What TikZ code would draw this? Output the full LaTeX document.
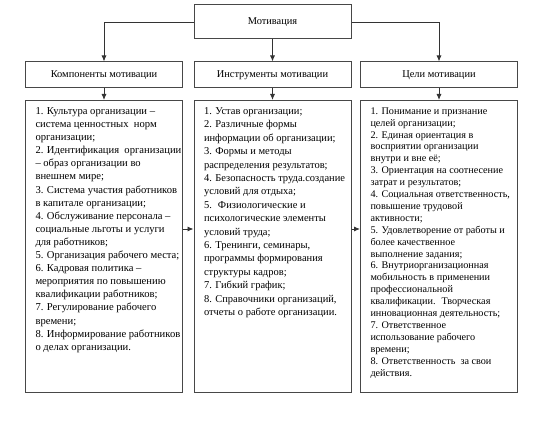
\documentclass[tikz,border=0pt]{standalone}
\usepackage{fontspec}
\setmainfont{Liberation Serif}
\usetikzlibrary{arrows.meta}
\tikzset{
  box/.style={draw=black!72, line width=1pt, fill=white, rectangle, inner sep=0pt,
    minimum width=157pt, align=center},
  listbox/.style={draw=black!72, line width=1pt, rectangle, inner sep=0pt, anchor=north},
  arr/.style={draw=black!80, line width=0.9pt, -{Latex[length=6pt,width=5pt]}},
}
\newcommand{\listtext}[3]{\hspace*{10pt}\parbox[c][292pt][t]{147pt}{\raggedright\fontsize{#1}{#2}\selectfont\vspace*{7pt}#3}}
\begin{document}
\begin{tikzpicture}[x=1pt,y=-1pt]
\useasboundingbox (0,0) rectangle (538,425);
\fill[white] (0,0) rectangle (538,425);
\node[box, minimum height=34pt, font=\fontsize{10.4}{12}\selectfont] (top) at (272.5,22) {Мотивация};
\node[box, minimum height=26pt, font=\fontsize{10.4}{12}\selectfont] (k1) at (104,75) {Компоненты мотивации};
\node[box, minimum height=26pt, font=\fontsize{10.4}{12}\selectfont] (k2) at (272.5,75) {Инструменты мотивации};
\node[box, minimum height=26pt, font=\fontsize{10.4}{12}\selectfont] (k3) at (439,75) {Цели мотивации};

\node[listbox] (b1) at (104,100) {\listtext{10.6}{13.1pt}{1. Культура организации –\\
система ценностных~ норм\\
организации;\\
2. Идентификация~ организации\\
– образ организации во\\
внешнем мире;\\
3. Система участия работников\\
в капитале организации;\\
4. Обслуживание персонала –\\
социальные льготы и услуги\\
для работников;\\
5. Организация рабочего места;\\
6. Кадровая политика –\\
мероприятия по повышению\\
квалификации работников;\\
7. Регулирование рабочего\\
времени;\\
8. Информирование работников\\
о делах организации.}};

\node[listbox] (b2) at (272.5,100) {\listtext{10.5}{13.4pt}{1. Устав организации;\\
2. Различные формы\\
информации об организации;\\
3. Формы и методы\\
распределения результатов;\\
4. Безопасность труда.создание\\
условий для отдыха;\\
5.~ Физиологические и\\
психологические элементы\\
условий труда;\\
6. Тренинги, семинары,\\
программы формирования\\
структуры кадров;\\
7. Гибкий график;\\
8. Справочники организаций,\\
отчеты о работе организации.}};

\node[listbox] (b3) at (439,100) {\listtext{10.2}{11.9pt}{1. Понимание и признание\\
целей организации;\\
2. Единая ориентация в\\
восприятии организации\\
внутри и вне её;\\
3. Ориентация на соотнесение\\
затрат и результатов;\\
4. Социальная ответственность,\\
повышение трудовой\\
активности;\\
5. Удовлетворение от работы и\\
более качественное\\
выполнение задания;\\
6. Внутриорганизационная\\
мобильность в применении\\
профессиональной\\
квалификации.~ Творческая\\
инновационная деятельность;\\
7. Ответственное\\
использование рабочего\\
времени;\\
8. Ответственность~ за свои\\
действия.}};

\coordinate (ya) at (0,229);
\draw[arr] (top.west) -| (k1.north);
\draw[arr] (top.east) -| (k3.north);
\draw[arr] (top.south) -- (k2.north);
\draw[arr] (k1.south) -- (b1.north);
\draw[arr] (k2.south) -- (b2.north);
\draw[arr] (k3.south) -- (b3.north);
\draw[arr] (b1.east |- ya) -- (b2.west |- ya);
\draw[arr] (b2.east |- ya) -- (b3.west |- ya);
\end{tikzpicture}
\end{document}
